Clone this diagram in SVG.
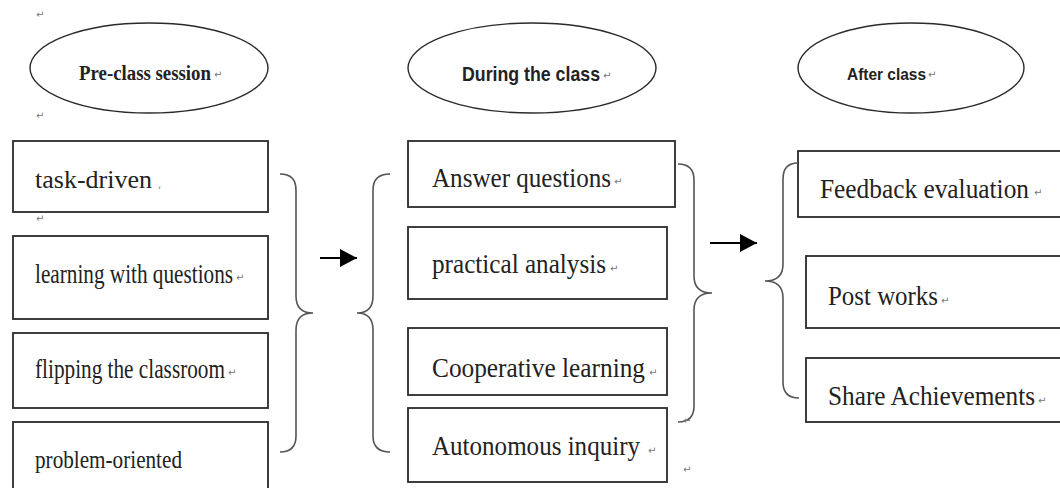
<svg xmlns="http://www.w3.org/2000/svg" width="1060" height="488" viewBox="0 0 1060 488">
  <style>
    .oval { fill: #fff; stroke: #2a2a2a; stroke-width: 1.4; }
    .box { fill: #fff; stroke: #2a2a2a; stroke-width: 1.8; }
    .brace { fill: none; stroke: #555; stroke-width: 1.6; }
    .arrow { stroke: #000; stroke-width: 2; fill: none; }
    .item { font-family: "Liberation Serif", "Times New Roman", serif; fill: #222; }
    .head-serif { font-family: "Liberation Serif", "Times New Roman", serif; font-weight: bold; fill: #222; }
    .head-sans { font-family: "Liberation Sans", Arial, sans-serif; font-weight: bold; fill: #222; }
    .mark { font-family: "DejaVu Sans", sans-serif; font-size: 10px; fill: #777; }
  </style>
  <defs>
    <marker id="tip" markerUnits="userSpaceOnUse" markerWidth="18" markerHeight="19" refX="17" refY="9" orient="auto">
      <path d="M0,0 L17,9 L0,18 Z" fill="#000"/>
    </marker>
  </defs>
  <rect width="1060" height="488" fill="#fff"/>

  <!-- paragraph marks outside the shapes -->
  <text class="mark" x="36" y="18">↵</text>
  <text class="mark" x="36" y="119">↵</text>
  <text class="mark" x="36" y="222">↵</text>
  <text class="mark" x="683" y="473">↵</text>

  <!-- stage headings (slightly tall, narrow lettering) -->
  <g id="pre-class">
    <ellipse class="oval" cx="149" cy="68" rx="119" ry="45"/>
    <text class="head-serif" transform="translate(79,80) scale(1,1.12)" font-size="18.8" textLength="132" lengthAdjust="spacingAndGlyphs">Pre-class session</text>
    <text class="mark" x="214" y="78">↵</text>
  </g>
  <g id="during-class">
    <ellipse class="oval" cx="532" cy="68" rx="124" ry="45"/>
    <text class="head-sans" transform="translate(462,81) scale(1,1.13)" font-size="17.7" textLength="138" lengthAdjust="spacingAndGlyphs">During the class</text>
    <text class="mark" x="603" y="79">↵</text>
  </g>
  <g id="after-class">
    <ellipse class="oval" cx="911" cy="68" rx="113" ry="45"/>
    <text class="head-sans" transform="translate(847,80) scale(1,1.1)" font-size="15.4" textLength="79" lengthAdjust="spacingAndGlyphs">After class</text>
    <text class="mark" x="928" y="78">↵</text>
  </g>

  <!-- pre-class column -->
  <g id="task-driven">
    <rect class="box" x="13" y="141" width="255" height="71"/>
    <text class="item" x="35" y="188" font-size="26" textLength="117" lengthAdjust="spacingAndGlyphs">task-driven</text>
    <text class="mark" x="158" y="188" font-size="8">,</text>
  </g>
  <g id="learning-with-questions">
    <rect class="box" x="13" y="236" width="255" height="83"/>
    <text class="item" transform="translate(35,283) scale(1,1.27)" font-size="21.2" textLength="198" lengthAdjust="spacingAndGlyphs">learning with questions</text>
    <text class="mark" x="236" y="281">↵</text>
  </g>
  <g id="flipping-the-classroom">
    <rect class="box" x="13" y="333" width="255" height="75"/>
    <text class="item" transform="translate(35,378) scale(1,1.27)" font-size="21.2" textLength="190" lengthAdjust="spacingAndGlyphs">flipping the classroom</text>
    <text class="mark" x="228" y="376">↵</text>
  </g>
  <g id="problem-oriented">
    <rect class="box" x="13" y="422" width="255" height="80"/>
    <text class="item" transform="translate(35,468) scale(1,1.22)" font-size="21.2" textLength="147" lengthAdjust="spacingAndGlyphs">problem-oriented</text>
  </g>

  <!-- in-class column -->
  <g id="answer-questions">
    <rect class="box" x="408" y="141" width="267" height="66"/>
    <text class="item" transform="translate(432,187) scale(1,1.08)" font-size="25" textLength="179" lengthAdjust="spacingAndGlyphs">Answer questions</text>
    <text class="mark" x="614" y="185">↵</text>
  </g>
  <g id="practical-analysis">
    <rect class="box" x="408" y="227" width="259" height="72"/>
    <text class="item" transform="translate(432,273) scale(1,1.07)" font-size="25.1" textLength="174" lengthAdjust="spacingAndGlyphs">practical analysis</text>
    <text class="mark" x="610" y="272">↵</text>
  </g>
  <g id="cooperative-learning">
    <rect class="box" x="408" y="328" width="259" height="67"/>
    <text class="item" transform="translate(432,377) scale(1,1.07)" font-size="25.2" textLength="213" lengthAdjust="spacingAndGlyphs">Cooperative learning</text>
    <text class="mark" x="649" y="376">↵</text>
  </g>
  <g id="autonomous-inquiry">
    <rect class="box" x="408" y="408" width="259" height="74"/>
    <text class="item" transform="translate(432,455) scale(1,1.08)" font-size="25" textLength="208" lengthAdjust="spacingAndGlyphs">Autonomous inquiry</text>
    <text class="mark" x="648" y="454">↵</text>
  </g>

  <!-- after-class column -->
  <g id="feedback-evaluation">
    <rect class="box" x="798" y="151" width="270" height="66"/>
    <text class="item" transform="translate(820,198) scale(1,1.07)" font-size="25.3" textLength="209" lengthAdjust="spacingAndGlyphs">Feedback evaluation</text>
    <text class="mark" x="1034" y="196">↵</text>
  </g>
  <g id="post-works">
    <rect class="box" x="806" y="256" width="262" height="72"/>
    <text class="item" transform="translate(828,305) scale(1,1.08)" font-size="24.9" textLength="110" lengthAdjust="spacingAndGlyphs">Post works</text>
    <text class="mark" x="941" y="304">↵</text>
  </g>
  <g id="share-achievements">
    <rect class="box" x="806" y="358" width="262" height="64"/>
    <text class="item" transform="translate(828,405) scale(1,1.08)" font-size="25.1" textLength="207" lengthAdjust="spacingAndGlyphs">Share Achievements</text>
    <text class="mark" x="1038" y="404">↵</text>
  </g>

  <!-- braces and arrows between the columns -->
  <g id="connectors">
    <path class="brace" d="M280,174 Q296,174 296,190 L296,296 Q296,313 313,313 Q296,313 296,330 L296,436 Q296,452 280,452"/>
    <path class="brace" d="M390,174 Q373,174 373,190 L373,296 Q373,313 357,313 Q373,313 373,330 L373,436 Q373,452 390,452"/>
    <path class="brace" d="M678,164 Q694,164 694,180 L694,276 Q694,293 712,293 Q694,293 694,310 L694,406 Q694,422 678,422"/>
    <path class="brace" d="M798,163 Q783,163 783,179 L783,264 Q783,281 765,281 Q783,281 783,298 L783,382 Q783,398 799,398"/>
    <line class="arrow" x1="320" y1="258" x2="357" y2="258" marker-end="url(#tip)"/>
    <line class="arrow" x1="710" y1="243" x2="757" y2="243" marker-end="url(#tip)"/>
    <text class="mark" x="683" y="424">↵</text>
  </g>
</svg>
